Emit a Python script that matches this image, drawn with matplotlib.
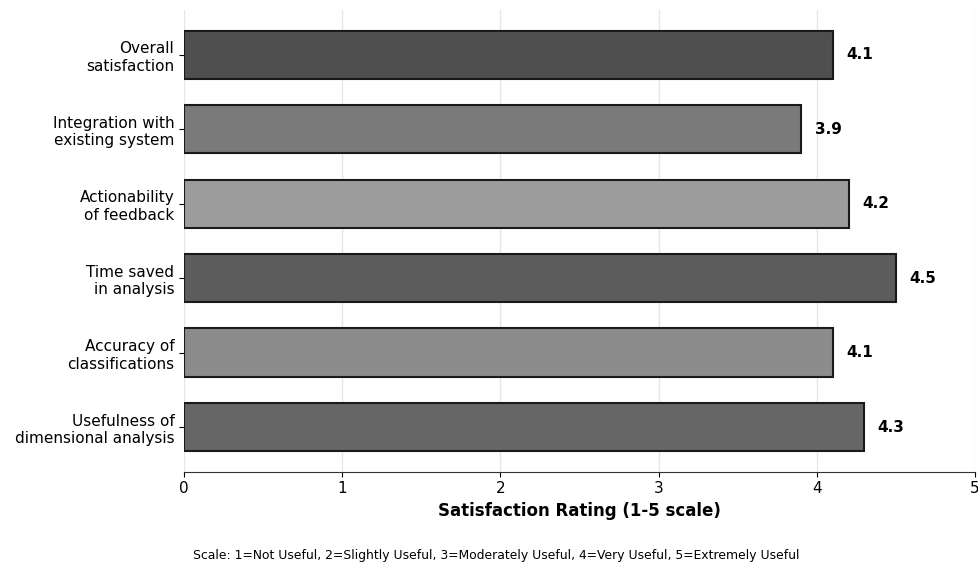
import matplotlib.pyplot as plt

# Survey results (bottom to top)
categories = [
    'Usefulness of\ndimensional analysis',
    'Accuracy of\nclassifications',
    'Time saved\nin analysis',
    'Actionability\nof feedback',
    'Integration with\nexisting system',
    'Overall\nsatisfaction',
]
ratings = [4.3, 4.1, 4.5, 4.2, 3.9, 4.1]
shades = ['#666666', '#8c8c8c', '#5c5c5c', '#9c9c9c', '#7a7a7a', '#4f4f4f']

fig = plt.figure(figsize=(9.79, 5.65), dpi=100)
ax = fig.add_axes([0.188, 0.165, 0.808, 0.817])

positions = range(len(categories))
ax.barh(positions, ratings, height=0.65, color=shades, edgecolor='#1a1a1a', linewidth=1.5, zorder=3)

# Value labels at the end of each bar
for y, v in zip(positions, ratings):
    ax.text(v + 0.085, y, f'{v:.1f}', va='center', ha='left', fontsize=11, fontweight='bold')

ax.set_yticks(list(positions))
ax.set_yticklabels(categories, fontsize=11)
ax.set_ylim(-0.6, 5.6)
ax.set_xlim(0, 5)
ax.set_xticks(range(0, 6))
ax.tick_params(axis='x', labelsize=11)
ax.set_xlabel('Satisfaction Rating (1-5 scale)', fontsize=12, fontweight='bold')

ax.grid(axis='x', color='#e6e6e6', linewidth=1, zorder=0)
for side in ['top', 'right', 'left']:
    ax.spines[side].set_visible(False)
ax.spines['bottom'].set_color('#333333')

fig.text(0.507, 0.006, 'Scale: 1=Not Useful, 2=Slightly Useful, 3=Moderately Useful, 4=Very Useful, 5=Extremely Useful',
         ha='center', va='bottom', fontsize=8.9)

plt.savefig('out.png', dpi=100)
